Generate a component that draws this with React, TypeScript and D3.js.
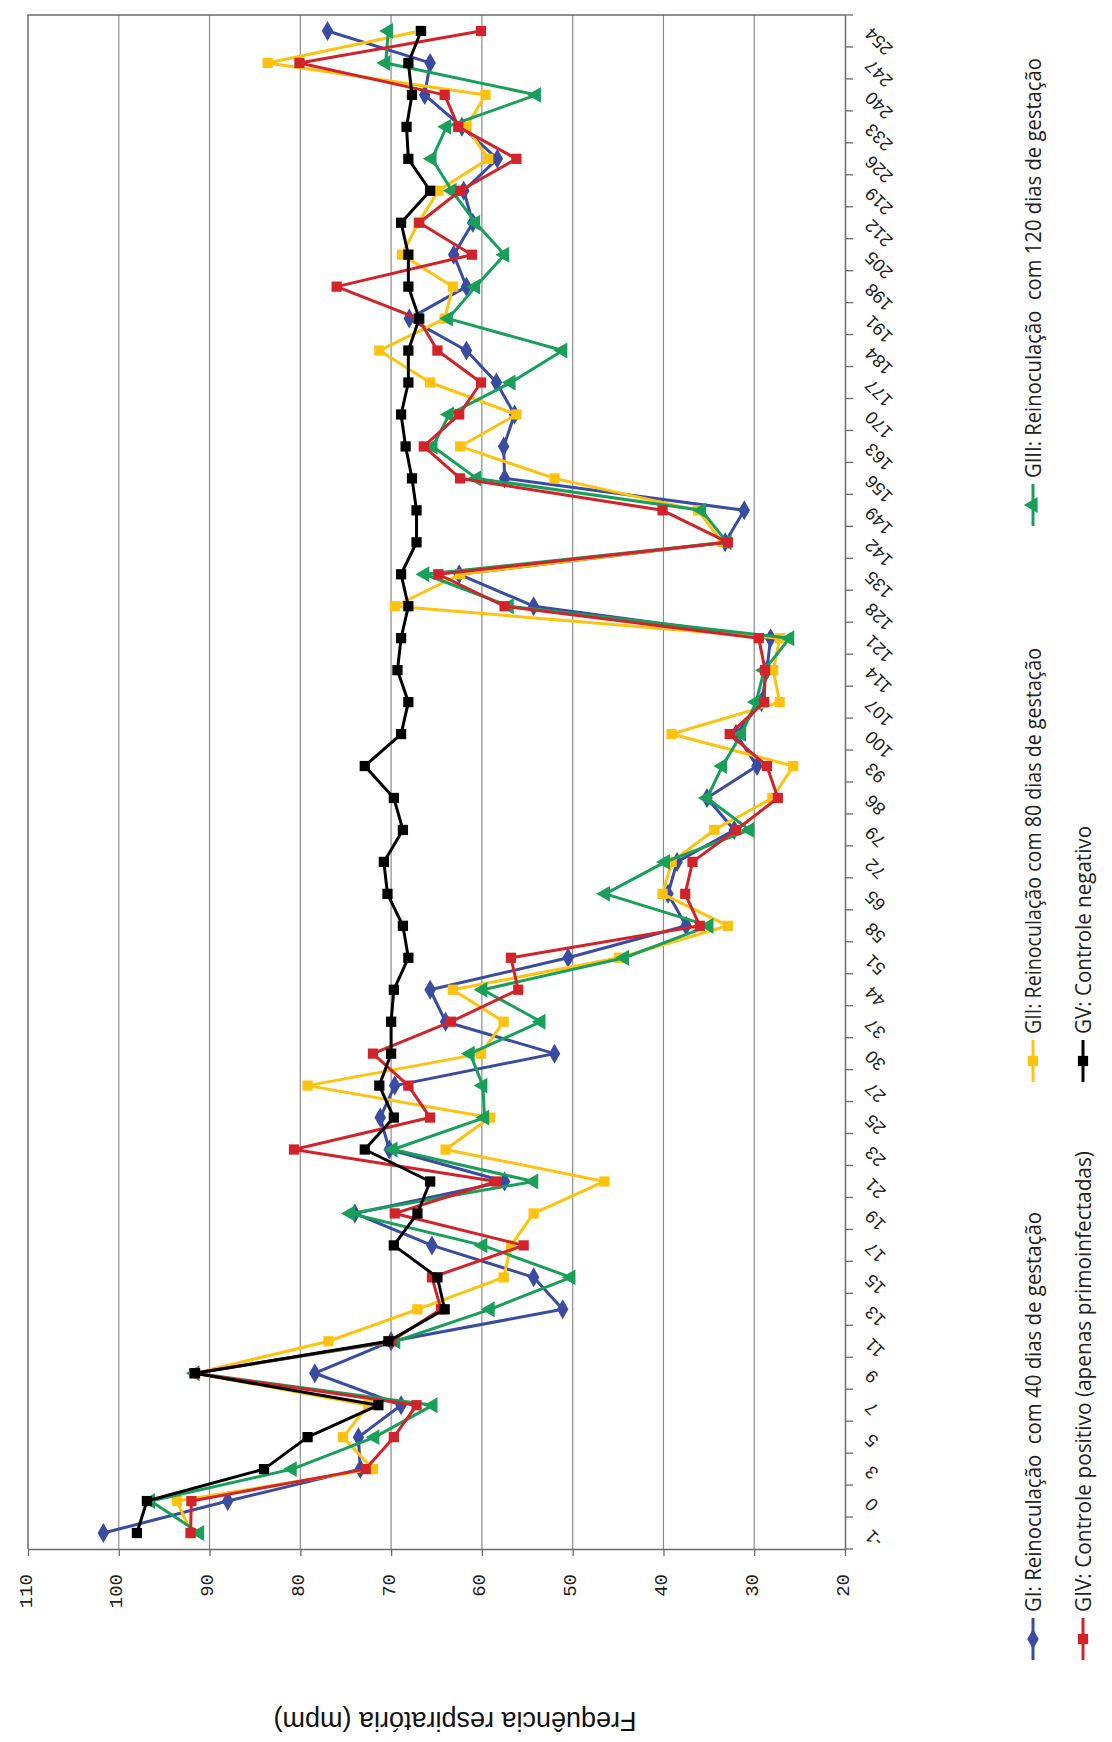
import * as d3 from "d3"
import { useLayoutEffect, useRef } from "react"

// chart is printed rotated 90° counter-clockwise: days run bottom -> top,
// respiratory frequency runs right (20) -> left (110)

const CATEGORIES = [
  "-1", "0", "3", "5", "7", "9", "11", "13", "15", "17", "19", "21", "23", "25", "27", "30",
  "37", "44", "51", "58", "65", "72", "79", "86", "93", "100", "107", "114", "121", "128",
  "135", "142", "149", "156", "163", "170", "177", "184", "191", "198", "205", "212", "219",
  "226", "233", "240", "247", "254",
]

const VALUE_TICKS = [110, 100, 90, 80, 70, 60, 50, 40, 30, 20]

const GI = [
  101.7, 88.0, 73.4, 73.6, 68.9, 78.4, 70.0, 51.1, 54.3, 65.5, 74.0, 57.5, 70.2, 71.2, 69.6, 52.0,
  64.0, 65.7, 50.5, 37.5, 39.5, 38.5, 32.2, 35.2, 29.7, 32.0, 29.2, 28.6, 28.2, 54.3,
  62.5, 33.2, 31.1, 57.5, 57.6, 56.4, 58.4, 61.7, 68.0, 61.7, 63.1, 61.0, 62.0,
  58.3, 62.2, 66.3, 65.7, 77.0,
]

const GII = [
  92.0, 93.6, 72.0, 75.3, 72.5, 91.6, 76.9, 67.1, 57.6, 56.8, 54.3, 46.5, 64.0, 59.1, 79.2, 60.1,
  57.6, 63.2, 44.9, 32.9, 40.1, 39.1, 34.4, 28.0, 25.7, 39.1, 27.2, 27.9, 27.2, 69.6,
  62.4, 33.5, 36.2, 52.0, 62.4, 56.2, 65.7, 71.3, 64.1, 63.2, 68.8, 67.0, 64.8,
  59.3, 61.7, 59.6, 83.6, 66.8,
]

const GIII = [
  91.1, 96.5, 80.9, 71.8, 65.4, 91.6, 69.5, 59.1, 50.2, 59.9, 74.5, 54.3, 69.8, 59.7, 59.9, 61.3,
  53.5, 59.9, 44.3, 35.0, 46.4, 39.8, 30.5, 35.2, 33.5, 31.4, 29.8, 28.9, 26.1, 57.0,
  66.3, 33.0, 35.8, 60.6, 65.4, 63.6, 56.8, 51.1, 63.7, 60.7, 57.5, 60.7, 63.3,
  65.5, 63.9, 54.0, 70.6, 70.3,
]

const GIV = [
  92.1, 92.0, 72.8, 69.7, 67.2, 91.7, 70.0, 64.5, 65.5, 55.4, 69.6, 58.4, 80.7, 65.7, 68.1, 72.0,
  63.4, 56.0, 56.8, 36.0, 37.6, 36.8, 32.0, 27.4, 28.6, 32.7, 28.9, 28.8, 29.5, 57.5,
  64.8, 32.9, 40.1, 62.4, 66.4, 62.5, 60.1, 64.9, 67.0, 76.0, 61.1, 66.9, 62.4,
  56.2, 62.6, 64.1, 80.1, 60.1,
]

const GV = [
  98.0, 96.9, 84.0, 79.2, 71.4, 91.6, 70.3, 64.1, 64.9, 69.7, 67.1, 65.7, 72.9, 69.7, 71.3, 70.0,
  70.0, 69.7, 68.1, 68.7, 70.4, 70.8, 68.7, 69.7, 72.9, 68.9, 68.1, 69.3, 68.9, 68.1,
  68.9, 67.2, 67.2, 67.7, 68.4, 68.9, 68.1, 68.1, 66.9, 68.1, 68.1, 68.9, 65.7,
  68.1, 68.3, 67.7, 68.1, 66.7,
]

const SERIES = [
  { name: "GI: Reinoculação  com 40 dias de gestação", values: GI, color: "#3a4ba2", marker: "diamond" },
  { name: "GII: Reinoculação com 80 dias de gestação", values: GII, color: "#ffc20e", marker: "square" },
  { name: "GIII: Reinoculação  com 120 dias de gestação", values: GIII, color: "#18a05a", marker: "triangle" },
  { name: "GIV: Controle positivo (apenas primoinfectadas)", values: GIV, color: "#d2232a", marker: "square" },
  { name: "GV: Controle negativo", values: GV, color: "#000000", marker: "square" },
]

// legend placement (rotated legend on the right side)
const LEGEND_POS = [
  { x: 1033, y: 1639, len: 400 },
  { x: 1033, y: 1061, len: 386 },
  { x: 1033, y: 505, len: 420 },
  { x: 1083, y: 1639, len: 461 },
  { x: 1083, y: 1061, len: 208 },
]

function markerPath(kind: string) {
  if (kind === "diamond") return d3.symbol(d3.symbolDiamond, 115)()
  if (kind === "triangle") return d3.symbol(d3.symbolTriangle, 110)()
  return d3.symbol(d3.symbolSquare, 105)()
}

export default function App() {
  const ref = useRef<SVGSVGElement>(null)

  useLayoutEffect(() => {
    if (!ref.current) return
    const svg = d3.select(ref.current)
    svg.selectAll("*").remove()

    const left = 28
    const right = 845
    const top = 15
    const bottom = 1549

    const x = d3.scaleLinear().domain([20, 110]).range([right, left])
    const y = d3.scaleBand().domain(CATEGORIES).range([bottom, top]).padding(0)
    const yc = (c: string) => (y(c) ?? 0) + y.bandwidth() / 2

    svg.append("rect").attr("width", 1112).attr("height", 1742).attr("fill", "#fff")

    // gridlines
    svg
      .append("g")
      .selectAll("line")
      .data(VALUE_TICKS.filter((v) => v !== 110 && v !== 20))
      .enter()
      .append("line")
      .attr("x1", (d) => x(d))
      .attr("x2", (d) => x(d))
      .attr("y1", top)
      .attr("y2", bottom)
      .attr("stroke", "#8c8c8c")
      .attr("stroke-width", 1.2)

    // plot border (left + top)
    svg
      .append("path")
      .attr("d", `M${right},${top}H${left}V${bottom}`)
      .attr("fill", "none")
      .attr("stroke", "#6b6b6b")
      .attr("stroke-width", 1.5)

    // value axis (bottom)
    const valueAxis = svg
      .append("g")
      .attr("transform", `translate(0,${bottom})`)
      .call(d3.axisBottom(x).tickValues(VALUE_TICKS).tickSizeInner(7).tickSizeOuter(0))
    valueAxis.select(".domain").attr("stroke", "#6b6b6b").attr("stroke-width", 1.5)
    valueAxis.selectAll(".tick line").attr("stroke", "#6b6b6b").attr("stroke-width", 1.3)
    valueAxis
      .selectAll(".tick text")
      .attr("transform", "rotate(-90)")
      .attr("x", -25)
      .attr("y", 3)
      .attr("dy", "0")
      .attr("text-anchor", "end")
      .attr("font-family", "'Liberation Mono', 'DejaVu Sans Mono', monospace")
      .attr("font-size", 19)
      .attr("fill", "#222")

    // category axis (right)
    const catAxis = svg
      .append("g")
      .attr("transform", `translate(${right},0)`)
      .call(d3.axisRight(y).tickSize(0))
    catAxis.select(".domain").attr("stroke", "#6b6b6b").attr("stroke-width", 1.5)
    catAxis
      .selectAll(".tick text")
      .attr("x", 0)
      .attr("dy", "0.35em")
      .attr("transform", "translate(23,0) rotate(-135)")
      .attr("text-anchor", "end")
      .attr("font-family", "'Liberation Sans', Arial, sans-serif")
      .attr("font-size", 18)
      .attr("fill", "#222")

    const bounds = d3.range(CATEGORIES.length + 1).map((i) => bottom - i * y.bandwidth())
    svg
      .append("g")
      .selectAll("line")
      .data(bounds)
      .enter()
      .append("line")
      .attr("x1", right)
      .attr("x2", right + 8)
      .attr("y1", (d) => d)
      .attr("y2", (d) => d)
      .attr("stroke", "#6b6b6b")
      .attr("stroke-width", 1.3)

    // series
    const line = d3
      .line<number>()
      .x((d) => x(d))
      .y((_, i) => yc(CATEGORIES[i]))

    SERIES.forEach((s) => {
      const g = svg.append("g")
      g.append("path")
        .attr("d", line(s.values))
        .attr("fill", "none")
        .attr("stroke", s.color)
        .attr("stroke-width", 3)
        .attr("stroke-linejoin", "round")
      g.selectAll("path.m")
        .data(s.values)
        .enter()
        .append("path")
        .attr("class", "m")
        .attr("d", markerPath(s.marker))
        .attr(
          "transform",
          (d, i) =>
            `translate(${x(d)},${yc(CATEGORIES[i])})${s.marker === "triangle" ? " rotate(-90)" : ""}`,
        )
        .attr("fill", s.color)
    })

    // legend
    SERIES.forEach((s, i) => {
      const p = LEGEND_POS[i]
      const g = svg.append("g")
      g.append("line")
        .attr("x1", p.x)
        .attr("x2", p.x)
        .attr("y1", p.y + 21)
        .attr("y2", p.y - 21)
        .attr("stroke", s.color)
        .attr("stroke-width", 3)
      g.append("path")
        .attr("d", markerPath(s.marker))
        .attr(
          "transform",
          `translate(${p.x},${p.y})${s.marker === "triangle" ? " rotate(-90)" : ""}`,
        )
        .attr("fill", s.color)
      g.append("text")
        .attr("transform", `translate(${p.x + 8},${p.y - 27}) rotate(-90)`)
        .attr("text-anchor", "start")
        .attr("font-family", "'Open Sans', sans-serif")
        .attr("font-size", 22)
        .attr("fill", "#222")
        .attr("textLength", p.len)
        .attr("lengthAdjust", "spacingAndGlyphs")
        .style("white-space", "pre")
        .text(s.name)
    })

    // value axis title (upside down)
    svg
      .append("text")
      .attr("transform", "translate(455,1712) rotate(180)")
      .attr("text-anchor", "middle")
      .attr("font-family", "'Liberation Sans', Arial, sans-serif")
      .attr("font-size", 27)
      .attr("fill", "#111")
      .text("Frequência respiratória (mpm)")
  }, [])

  return (
    <svg
      ref={ref}
      width={1112}
      height={1742}
      style={{ position: "absolute", left: 0, top: 0, display: "block" }}
    />
  )
}
